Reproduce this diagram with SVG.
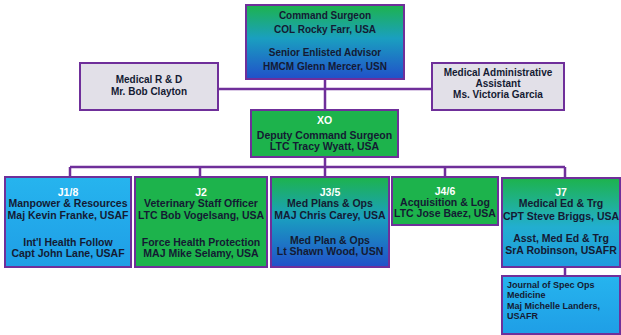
<svg xmlns="http://www.w3.org/2000/svg" width="621" height="335" viewBox="0 0 621 335">
<defs>
<linearGradient id="gb" x1="0" y1="0" x2="0" y2="1">
<stop offset="0" stop-color="#1db34c"/><stop offset="0.45" stop-color="#1a9fc0"/><stop offset="1" stop-color="#2150c9"/>
</linearGradient>
<linearGradient id="gc" x1="0" y1="0" x2="0" y2="1">
<stop offset="0" stop-color="#1db34c"/><stop offset="0.55" stop-color="#22aed0"/><stop offset="1" stop-color="#1f9ae0"/>
</linearGradient>
<linearGradient id="lb" x1="0" y1="0" x2="0" y2="1">
<stop offset="0" stop-color="#26b4ee"/><stop offset="1" stop-color="#1f9ee6"/>
</linearGradient>
</defs>
<style>
.b{stroke:#6f2f9a;stroke-width:2}
.g{fill:#1db34c}
.gr{fill:#e2e0e8}
.t{font-family:"Liberation Sans",Arial,sans-serif;font-weight:bold;font-size:10.5px;fill:#141a33;text-anchor:middle}
.s{font-size:10px}
.j{font-size:9px}
.w{fill:#ffffff}
.l{text-anchor:start}
.c{stroke:#6f2f9a;stroke-width:2.5;fill:none}
</style>
<rect width="621" height="335" fill="#ffffff"/>
<g id="connectors">
<path class="c" d="M218 89H432M325 79V110M325 157V177M70 167H565M70 167V177M200 167V177M445 167V177M565 167V178M565 267V276"/>
</g>
<g id="command">
<rect class="b" x="246" y="5" width="158" height="74" fill="url(#gb)"/>
<text class="t s" x="325" y="19">Command Surgeon</text>
<text class="t s" x="325" y="33">COL Rocky Farr, USA</text>
<text class="t s" x="325" y="56">Senior Enlisted Advisor</text>
<text class="t s" x="325" y="70">HMCM Glenn Mercer, USN</text>
</g>
<g id="rd">
<rect class="b gr" x="80" y="63" width="138" height="47"/>
<text class="t s" x="149" y="83">Medical R &amp; D</text>
<text class="t s" x="149" y="95">Mr. Bob Clayton</text>
</g>
<g id="admin">
<rect class="b gr" x="432" y="63" width="132" height="47"/>
<text class="t s" x="498" y="76">Medical Administrative</text>
<text class="t s" x="498" y="87">Assistant</text>
<text class="t s" x="498" y="98">Ms. Victoria Garcia</text>
</g>
<g id="xo">
<rect class="b g" x="251" y="110" width="147" height="47"/>
<text class="t w" x="324.5" y="124">XO</text>
<text class="t" x="324.5" y="138.5">Deputy Command Surgeon</text>
<text class="t" x="324.5" y="150">LTC Tracy Wyatt, USA</text>
</g>
<g id="j18">
<rect class="b" x="5" y="177" width="126" height="90" fill="url(#lb)"/>
<text class="t w" x="68" y="195.5">J1/8</text>
<text class="t" x="68" y="207">Manpower &amp; Resources</text>
<text class="t" x="68" y="218.5">Maj Kevin Franke, USAF</text>
<text class="t" x="68" y="245.5">Int'l Health Follow</text>
<text class="t" x="68" y="257">Capt John Lane, USAF</text>
</g>
<g id="j2">
<rect class="b g" x="135" y="177" width="132" height="90"/>
<text class="t w" x="201" y="195.5">J2</text>
<text class="t" x="201" y="207">Veterinary Staff Officer</text>
<text class="t" x="201" y="218.5">LTC Bob Vogelsang, USA</text>
<text class="t" x="201" y="245.5">Force Health Protection</text>
<text class="t" x="201" y="257">MAJ Mike Selamy, USA</text>
</g>
<g id="j35">
<rect class="b" x="271" y="177" width="118" height="90" fill="url(#gb)"/>
<text class="t w" x="330" y="195.5">J3/5</text>
<text class="t" x="330" y="207">Med Plans &amp; Ops</text>
<text class="t" x="330" y="218.5">MAJ Chris Carey, USA</text>
<text class="t" x="330" y="243.5">Med Plan &amp; Ops</text>
<text class="t" x="330" y="255">Lt Shawn Wood, USN</text>
</g>
<g id="j46">
<rect class="b g" x="392" y="177" width="106" height="48"/>
<text class="t w" x="445" y="194.5">J4/6</text>
<text class="t" x="445" y="206">Acquisition &amp; Log</text>
<text class="t" x="445" y="217">LTC Jose Baez, USA</text>
</g>
<g id="j7">
<rect class="b" x="502" y="178" width="118" height="89" fill="url(#gc)"/>
<text class="t w" x="561" y="195.5">J7</text>
<text class="t" x="561" y="207">Medical Ed &amp; Trg</text>
<text class="t" x="561" y="219.5">CPT Steve Briggs, USA</text>
<text class="t" x="561" y="241.5">Asst, Med Ed &amp; Trg</text>
<text class="t" x="561" y="253.5">SrA Robinson, USAFR</text>
</g>
<g id="journal">
<rect class="b" x="502" y="276" width="118" height="58" fill="url(#lb)"/>
<text class="t j l" x="507" y="287.5">Journal of Spec Ops</text>
<text class="t j l" x="507" y="298">Medicine</text>
<text class="t j l" x="507" y="308.5">Maj Michelle Landers,</text>
<text class="t j l" x="507" y="319">USAFR</text>
</g>
</svg>
